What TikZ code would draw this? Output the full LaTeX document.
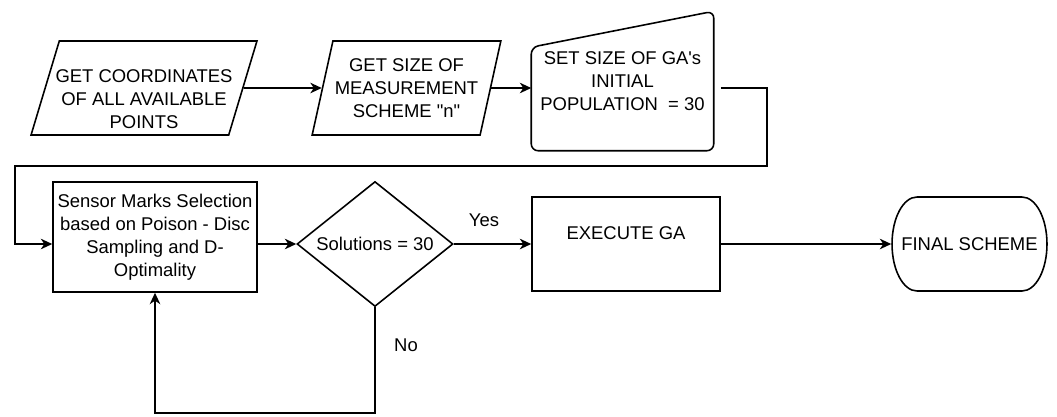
\documentclass[tikz,border=0pt]{standalone}
\usepackage{fontspec}
\newfontfamily\flowfont{Liberation Sans}
\usetikzlibrary{shapes.geometric, arrows.meta}

\begin{document}
\begin{tikzpicture}
            [->, >={Stealth[length=6.5pt, width=6pt, inset=2pt]}, line width=0.9pt, x=0.02cm, y=-0.02cm,
             font=\flowfont\fontsize{10.5}{13}\selectfont,
             inbox/.style={trapezium, trapezium left angle=71, trapezium right angle=109,
                           trapezium stretches=true, draw=black, inner sep=0pt,
                           align=center, minimum height=1.88cm},
             procbox/.style={rectangle, draw=black, align=center, inner sep=2pt},
             decision/.style={diamond, draw=black, inner sep=0pt, shape aspect=1.25,
                              minimum width=3.12cm, minimum height=2.5cm}]
            \useasboundingbox (0, 0) rectangle (1057, 416);

            \node[inbox, minimum width=4.52cm, inner xsep=-0.1cm] (coords) at (144, 88) {\rule{0pt}{0.7cm}GET COORDINATES\\OF ALL AVAILABLE\\POINTS};
            \node[inbox, minimum width=3.78cm] (size) at (406.5, 88) {GET SIZE OF\\MEASUREMENT\\SCHEME "n"};
            \node[align=center, minimum width=3.62cm, minimum height=2.76cm] (popsize) at (622.5, 81) {SET SIZE OF GA's\\INITIAL\\POPULATION\ \ = 30};
            \draw[-, rounded corners=0.14cm] (popsize.west) -- (popsize.south west) -- (popsize.south east)
                -- (popsize.north east) -- ([yshift=-0.72cm]popsize.north west) -- cycle;

            \node[procbox, minimum width=4.08cm, minimum height=2.2cm] (marks) at (155, 237) {Sensor Marks Selection\\based on Poison - Disc\\Sampling and D-\\Optimality};
            \node[decision] (check) at (375, 244) {Solutions = 30};
            \node[procbox, minimum width=3.76cm, minimum height=1.88cm, text depth=0.44cm] (execga) at (626, 244) {EXECUTE GA};
            \node[minimum width=3.1cm, minimum height=1.88cm] (final) at (969.5, 244) {FINAL SCHEME};
            \begin{scope}[shift={(final.center)}, x=1cm, y=1cm]
                \draw[-] (-1.05, 0.94) -- (1.05, 0.94) arc[start angle=90, end angle=-90, x radius=0.5, y radius=0.94]
                    -- (-1.05, -0.94) arc[start angle=270, end angle=90, x radius=0.5, y radius=0.94] -- cycle;
            \end{scope}

            \node (yes) at (484, 220) {Yes};
            \node (no) at (406, 345) {No};

            \coordinate (up) at (767, 166);
            \coordinate (back) at (15, 244);
            \coordinate (down) at (375, 413);

            \draw (coords) -- (size);
            \draw (size.east) -- (size.east -| popsize.west);
            \draw ([xshift=0.14cm]popsize.east |- size.east) -| (up) -| (back) -- (marks.west |- check.west);
            \draw (marks.east |- check.west) -- (check.west);
            \draw (check.east) -- (execga.west);
            \draw (execga.east) -- (final.west);
            \draw (check.south) -- (down) -| (marks.south);
        \end{tikzpicture}
\end{document}
